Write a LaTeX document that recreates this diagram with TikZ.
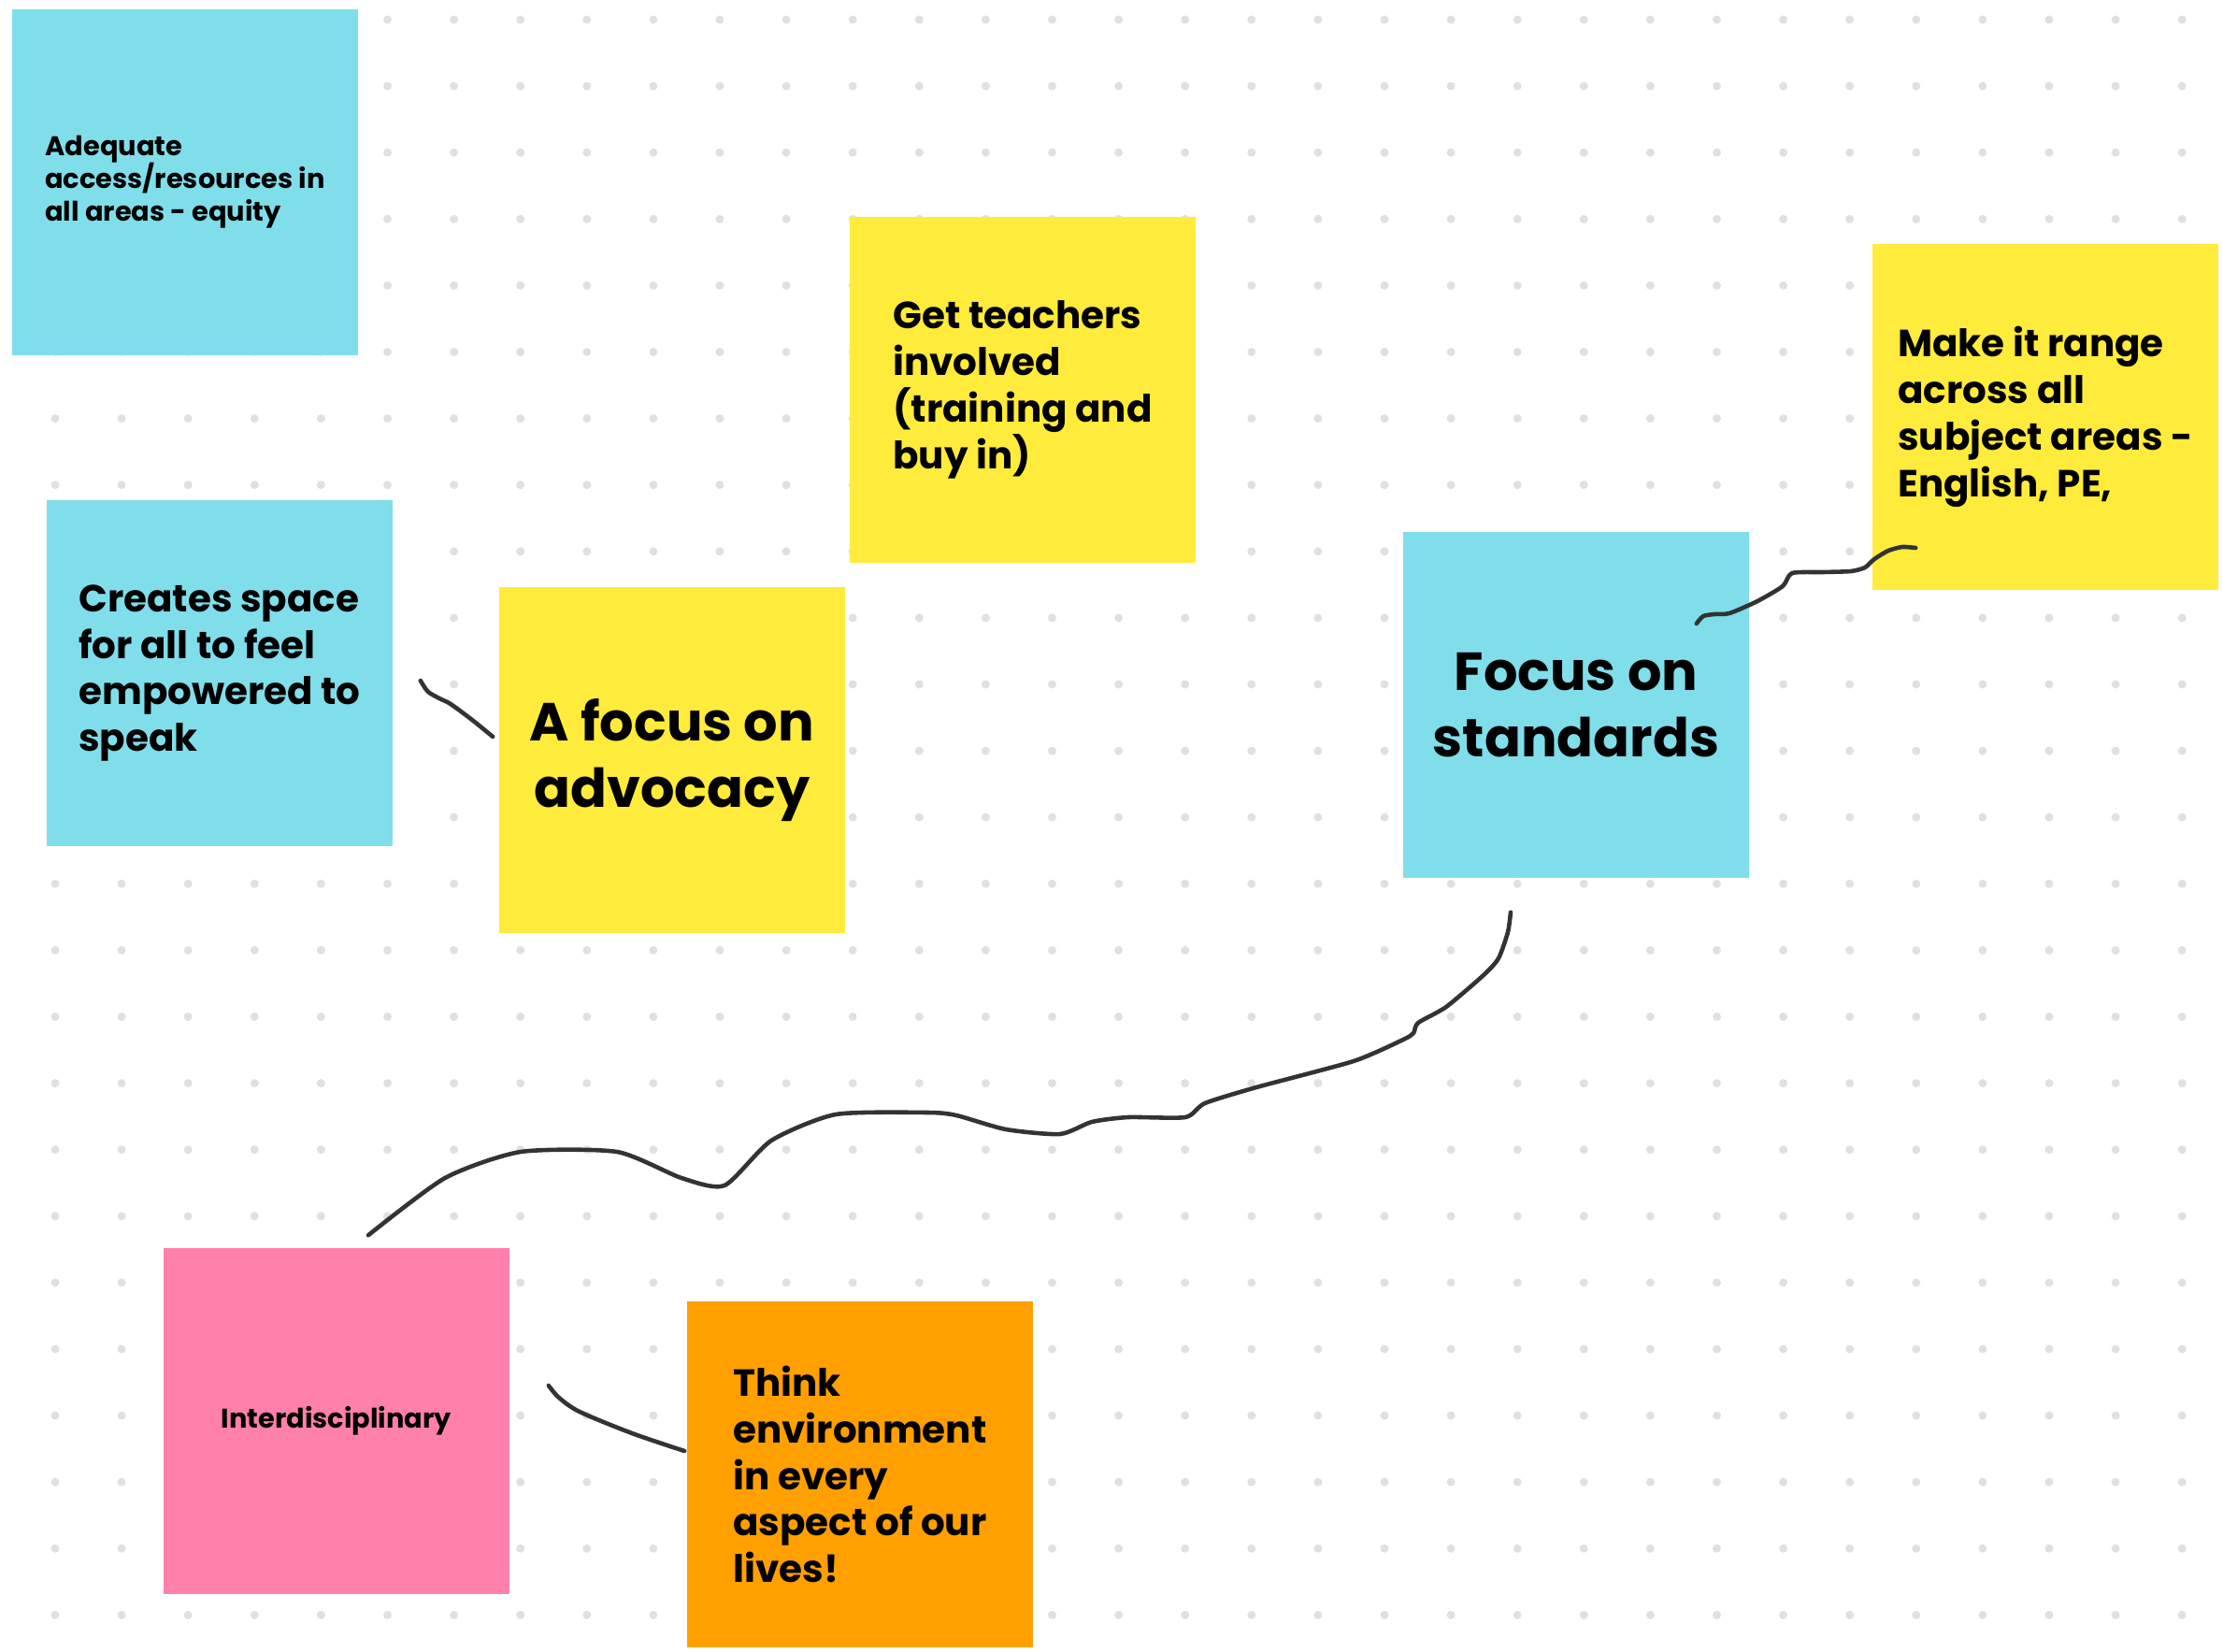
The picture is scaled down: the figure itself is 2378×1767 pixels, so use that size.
\documentclass[tikz,border=0pt]{standalone}
\usepackage{fontspec}
\setmainfont{Poppins}
\definecolor{stcyan}{HTML}{80DEEA}
\definecolor{styellow}{HTML}{FFEB3B}
\definecolor{stpink}{HTML}{FF80AB}
\definecolor{storange}{HTML}{FFA000}
\definecolor{dotgray}{HTML}{E0E0E0}
\definecolor{inkgray}{HTML}{333333}

\begin{document}
\begin{tikzpicture}[x=0.01cm,y=-0.01cm,
  sticky/.style={rectangle,fill=#1,minimum width=3.7cm,minimum height=3.7cm,inner sep=0pt,align=left},
  txs/.style={font=\bfseries\fontsize{8.2}{10}\selectfont},
  txm/.style={font=\bfseries\fontsize{11.5}{14.2}\selectfont},
  txl/.style={font=\bfseries\fontsize{16.3}{20}\selectfont,align=center},
  ink/.style={draw=inkgray,line width=1.3pt,line cap=round,line join=round}]

\useasboundingbox (0,0) rectangle (2378,1767);
\foreach \i in {0,...,32}
  \foreach \j in {0,...,24}
    \fill[dotgray] (59+71.1*\i,21+71.1*\j) circle[radius=0.45mm];

\node [sticky=stcyan,txs] (eq) at (198,195) {Adequate\\access/resources in\\all areas - equity};
\node [sticky=styellow,txm] (tch) at (1094,417) {Get teachers\\involved\\(training and\\buy in)};
\node [sticky=styellow,txm] (rng) at (2188,446) {Make it range\\across all\\subject areas -\\English, PE,};
\node [sticky=stcyan,txm] (spk) at (235,720) {Creates space\\for all to feel\\empowered to\\speak};
\node [sticky=styellow,txl] (adv) at (719,813) {A focus on\\advocacy};
\node [sticky=stcyan,txl] (std) at (1686,754) {Focus on\\standards};
\node [sticky=stpink,txs] (itd) at (360,1520) {Interdisciplinary};
\node [sticky=storange,txm] (env) at (920,1577) {Think\\environment\\in every\\aspect of our\\lives!};

\coordinate (a1) at ([shift={(29,8)}]spk.east);
\coordinate (a2) at ([shift={(-6,-25)}]adv.west);
\coordinate (b1) at ([shift={(-57,-87)}]std.east);
\coordinate (b2) at ([shift={(47,140)}]rng.west);
\coordinate (c1) at ([shift={(34,-13)}]itd.north);
\coordinate (c2) at ([shift={(-70,36)}]std.south);
\coordinate (d1) at ([shift={(41,-38)}]itd.east);
\coordinate (d2) at ([shift={(-2,-25)}]env.west);

\draw [ink] plot[smooth,tension=0.5] coordinates {(a1) (458,740) (472,748) (482,753) (505,770) (a2)};
\draw [ink] plot[smooth,tension=0.4] coordinates {(b1) (1822,659) (1834,657) (1850,656) (1880,643) (1907,627) (1917,613) (1950,612) (1980,611) (1995,607) (2005,598) (2020,589) (2035,585) (b2)};
\draw [ink] plot[smooth,tension=0.4] coordinates {(c1) (476,1260) (557,1232) (660,1232) (729,1260) (775,1268) (825,1220) (894,1192) (992,1190) (1023,1193) (1076,1208) (1134,1213) (1168,1200) (1207,1195) (1268,1195) (1289,1180) (1344,1163) (1448,1135) (1501,1112) (1512,1105) (1517,1094) (1547,1077) (1587,1043) (1603,1025) (1613,997) (c2)};
\draw [ink] plot[smooth,tension=0.5] coordinates {(d1) (598,1495) (620,1510) (676,1533) (d2)};
\end{tikzpicture}
\end{document}
